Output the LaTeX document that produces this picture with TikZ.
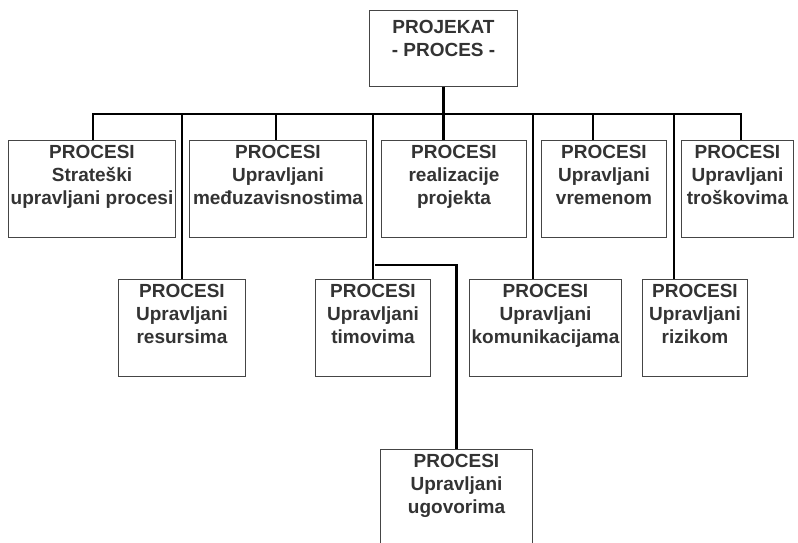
\documentclass[tikz,border=0pt]{standalone}
\usepackage{fontspec}
\setmainfont{Liberation Sans}
\usetikzlibrary{calc}
\definecolor{boxline}{HTML}{454545}
\definecolor{txt}{HTML}{333333}
\begin{document}
\begin{tikzpicture}[x=1pt,y=-1pt,
  box/.style={draw=boxline, line width=1pt, rectangle, inner sep=0pt, anchor=north west},
  lbl/.style={anchor=north, inner sep=0pt, align=center, text=txt,
    font=\fontsize{19}{23}\selectfont\bfseries},
  link/.style={draw=black, line width=2.2pt}]
\useasboundingbox (0,0) rectangle (798,542);
\clip (0,0) rectangle (798,542);

% root
\node[box, minimum width=148pt, minimum height=76pt] (P) at (369,10) {};
\node[lbl] (Pt) at ($(P.north)+(0,10)$) {PROJEKAT\\- PROCES -};

% first row
\node[box, minimum width=167pt, minimum height=97pt] (s1) at (8,140) {};
\node[box, minimum width=177pt, minimum height=97pt] (s2) at (189,140) {};
\node[box, minimum width=145pt, minimum height=97pt] (s3) at (381,140) {};
\node[box, minimum width=125pt, minimum height=97pt] (s4) at (541,140) {};
\node[box, minimum width=112pt, minimum height=97pt] (s5) at (681,140) {};
\node[lbl] (s1t) at ($(s1.north)+(0,5)$) {PROCESI\\Strateški\\upravljani procesi};
\node[lbl] (s2t) at ($(s2.north)+(0,5)$) {PROCESI\\Upravljani\\međuzavisnostima};
\node[lbl] (s3t) at ($(s3.north)+(0,5)$) {PROCESI\\realizacije\\projekta};
\node[lbl] (s4t) at ($(s4.north)+(0,5)$) {PROCESI\\Upravljani\\vremenom};
\node[lbl] (s5t) at ($(s5.north)+(0,5)$) {PROCESI\\Upravljani\\troškovima};

% second row
\node[box, minimum width=127pt, minimum height=97pt] (r1) at (118,279) {};
\node[box, minimum width=115pt, minimum height=97pt] (r2) at (315,279) {};
\node[box, minimum width=152pt, minimum height=97pt] (r3) at (469,279) {};
\node[box, minimum width=105pt, minimum height=97pt] (r4) at (642,279) {};
\node[lbl] (r1t) at ($(r1.north)+(0,5)$) {PROCESI\\Upravljani\\resursima};
\node[lbl] (r2t) at ($(r2.north)+(0,5)$) {PROCESI\\Upravljani\\timovima};
\node[lbl] (r3t) at ($(r3.north)+(0,5)$) {PROCESI\\Upravljani\\komunikacijama};
\node[lbl] (r4t) at ($(r4.north)+(0,5)$) {PROCESI\\Upravljani\\rizikom};

% contracts box, running off the lower edge
\node[box, minimum width=152pt, minimum height=120pt] (u) at (380,449) {};
\node[lbl] (ut) at ($(u.north)+(0,5)$) {PROCESI\\Upravljani\\ugovorima};

% bus junctions
\coordinate (bL) at (93,114);
\coordinate (bR) at (741,114);
\coordinate (b2) at (182,114);
\coordinate (b3) at (276,114);
\coordinate (b4) at (373,114);
\coordinate (b6) at (533,114);
\coordinate (b7) at (593,114);
\coordinate (b8) at (674,114);
\coordinate (tb) at (375,265);

% connectors
\draw[link] (bL |- s1.north) -- (bL) -- (bR) -- (bR |- s5.north);
\draw[link] (P.south) -- (P.south |- s3.north);
\draw[link] (b2) -- (b2 |- r1.north);
\draw[link] (b3) -- (b3 |- s2.north);
\draw[link] (b4) -- (b4 |- r2.north);
\draw[link] (b6) -- (b6 |- r3.north);
\draw[link] (b7) -- (b7 |- s4.north);
\draw[link] (b8) -- (b8 |- r4.north);
\draw[link] (tb) -| (u.north);
\end{tikzpicture}
\end{document}
